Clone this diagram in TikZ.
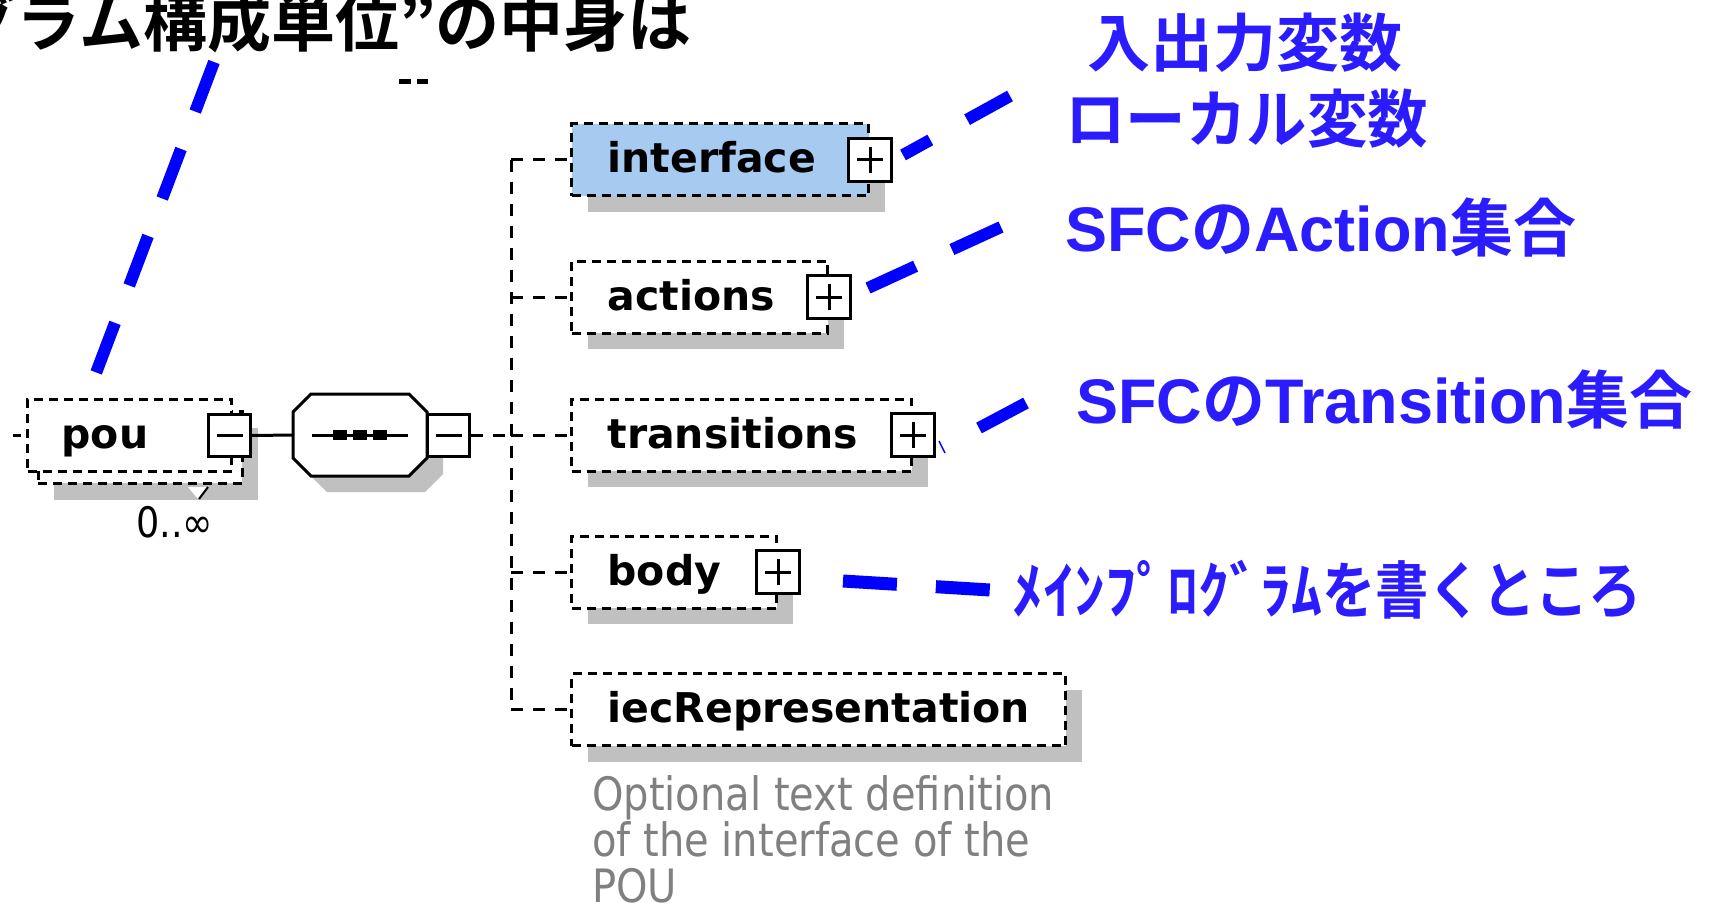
\documentclass[tikz,border=0pt]{standalone}
\usepackage{fontspec}
\usepackage{graphicx}
\usetikzlibrary{shadows}
\newfontfamily\dvs{DejaVu Sans}
\newfontfamily\descfont[FakeStretch=0.87]{DejaVu Sans}
\newfontfamily\jpb{Noto Sans CJK JP Bold}
\newfontfamily\lsb{Liberation Sans Bold}
\definecolor{ifblue}{RGB}{166,202,240}
\definecolor{shgray}{RGB}{192,192,192}
\definecolor{lblue}{RGB}{43,27,255}
\definecolor{dgray}{RGB}{128,128,128}
\definecolor{pblue}{RGB}{0,0,255}
\begin{document}
\begin{tikzpicture}[x=1pt,y=-1pt,
  elbase/.style={draw=black, line width=3pt, dash pattern=on 9pt off 6pt, fill=white,
    anchor=west, minimum height=72pt, inner xsep=36pt, inner ysep=0pt,
    text height=26pt, text depth=0pt, align=left,
    font=\dvs\bfseries\fontsize{41pt}{41pt}\selectfont},
  elem/.style={elbase, general shadow={fill=shgray, shadow xshift=16pt, shadow yshift=-16pt}},
  pbox/.style={draw=black, solid, line width=3pt, fill=white, minimum size=43pt, inner sep=0pt,
    path picture={\draw[line width=3pt]
      ([xshift=-13pt]path picture bounding box.center) -- ([xshift=13pt]path picture bounding box.center)
      ([yshift=-13pt]path picture bounding box.center) -- ([yshift=13pt]path picture bounding box.center);}},
  mbox/.style={draw=black, solid, line width=3pt, fill=white, minimum size=42pt, inner sep=0pt,
    path picture={\draw[line width=3pt]
      ([xshift=-13pt]path picture bounding box.center) -- ([xshift=13pt]path picture bounding box.center);}},
  conn/.style={draw=black, line width=3pt, dash pattern=on 12pt off 10pt},
  bl/.style={draw=pblue, line width=12pt},
  lbl/.style={text=lblue, anchor=base west, inner sep=0pt, font=\fontsize{63pt}{63pt}\selectfont},
  desc/.style={text=dgray, anchor=base west, inner sep=0pt, font=\descfont\fontsize{46pt}{47pt}\selectfont},
  octo/.pic={\path[pic actions] (-49,-41) -- (49,-41) -- (67,-23) -- (67,23) -- (49,41) -- (-49,41) -- (-67,23) -- (-67,-23) -- cycle;}
]
\useasboundingbox (0,0) rectangle (1723,910);
\clip (0,0) rectangle (1723,910);

% title
\node[font=\jpb\fontsize{64pt}{64pt}\selectfont, anchor=base east, inner sep=0pt] (title) at (692,46) {“プログラム構成単位”の中身は};
\coordinate (dd1) at (399,81);
\coordinate (dd2) at (428,81);
\draw[line width=5pt, dash pattern=on 12pt off 6pt] (dd1) -- (dd2);

% pou element (repeated)
\node[draw=black, line width=3pt, dash pattern=on 9pt off 6pt, fill=white, minimum width=204pt, minimum height=72pt, inner sep=0pt,
  general shadow={fill=shgray, shadow xshift=16pt, shadow yshift=-17pt}] (pouback) at (140,447) {};
\fill[white] (188,487) -- (208,487) -- (198,499) -- cycle;
\draw[line width=2pt] (208,487) -- (199,499);
\node[elbase, minimum width=204pt, text width=136pt, inner xsep=34pt] (pou) at (26,435) {pou};
\node[mbox] (poum) at (229.5,435.5) {};
\node[font=\descfont\fontsize{42pt}{42pt}\selectfont, anchor=base west, inner sep=0pt] (card) at (136,537) {0..∞};
\coordinate (pin) at (13,435);
\draw[line width=3pt, dash pattern=on 8pt off 10pt] (pin) -- (pou.west);

% sequence compositor
\pic[fill=shgray] at (376,451) {octo};
\pic[draw=black, fill=white, line width=3pt] at (360,435) {octo};
\node[minimum width=134pt, minimum height=82pt, inner sep=0pt] (seq) at (360,435) {};
\draw[line width=3pt] ([xshift=-48pt]seq.center) -- ([xshift=48pt]seq.center);
\fill ([shift={(-27pt,-5pt)}]seq.center) rectangle ([shift={(-13pt,5pt)}]seq.center);
\fill ([shift={(-7pt,-5pt)}]seq.center) rectangle ([shift={(7pt,5pt)}]seq.center);
\fill ([shift={(13pt,-5pt)}]seq.center) rectangle ([shift={(27pt,5pt)}]seq.center);
\node[mbox] (seqm) at (448.5,435.5) {};
\draw[line width=3pt] (poum.east) -- (seq.west);

% child elements
\node[elem, fill=ifblue, minimum width=297pt, text width=225pt] (int) at (570,159.5) {interface};
\node[pbox] (intp) at (int.east) {};
\node[elem, minimum width=256pt, text width=184pt] (act) at (570,297) {actions};
\node[pbox] (actp) at (act.east) {};
\node[elem, minimum width=340pt, text width=268pt] (tra) at (570,435) {transitions};
\node[pbox] (trap) at (tra.east) {};
\node[elem, minimum width=205pt, text width=133pt] (bod) at (570,572) {body};
\node[pbox] (bodp) at (bod.east) {};
\node[elem, minimum width=494pt, text width=422pt] (iec) at (570,709.5) {iecRepresentation};

% connectors
\coordinate (vx) at (511,0);
\draw[conn] (int.west -| vx) -- (iec.west -| vx);
\draw[conn] (seqm.east) -- (seqm.east -| vx);
\foreach \n in {int,act,tra,bod,iec}{\draw[conn] (\n.west -| vx) -- (\n.west);}

% description
\node[desc] (d1) at (592,810) {Optional text definition};
\node[desc] (d2) at (592,856) {of the interface of the};
\node[desc] (d3) at (592,902) {POU};

% blue labels
\node[lbl] (l1) at (1087,66) {\jpb 入出力変数};
\node[lbl] (l2) at (1065,142) {\jpb\scalebox{0.96}[1]{ローカル変数}};
\node[lbl] (l3) at (1065,251) {\lsb SFC\jpb の\lsb Action\jpb 集合};
\node[lbl] (l4) at (1076,423) {\lsb SFC\jpb の\lsb Transition\jpb 集合};
\node[lbl, font=\fontsize{62pt}{62pt}\selectfont] (l5) at (1012,613) {\jpb ﾒｲﾝﾌﾟﾛｸﾞﾗﾑ\scalebox{0.86}[1]{を書くところ}};

% blue dashed annotation lines
\coordinate (a1s) at (214,62);  \coordinate (a1e) at (96,373);
\draw[bl, dash pattern=on 53pt off 40pt] (a1s) -- (a1e);
\coordinate (a2s) at (1010,96); \coordinate (a2e) at (903,155);
\draw[bl, dash pattern=on 49pt off 42pt] (a2s) -- (a2e);
\coordinate (a3s) at (1001,227); \coordinate (a3e) at (868,288);
\draw[bl, dash pattern=on 54pt off 40pt] (a3s) -- (a3e);
\coordinate (a4s) at (1026,403); \coordinate (a4e) at (979,428);
\draw[bl] (a4s) -- (a4e);
\coordinate (a4t) at (939,441); \coordinate (a4u) at (945,453);
\draw[draw=pblue, line width=1.5pt] (a4t) -- (a4u);
\coordinate (a5s) at (843,581); \coordinate (a5e) at (990,590);
\draw[bl, line width=13pt, dash pattern=on 54pt off 39pt] (a5s) -- (a5e);
\end{tikzpicture}
\end{document}
